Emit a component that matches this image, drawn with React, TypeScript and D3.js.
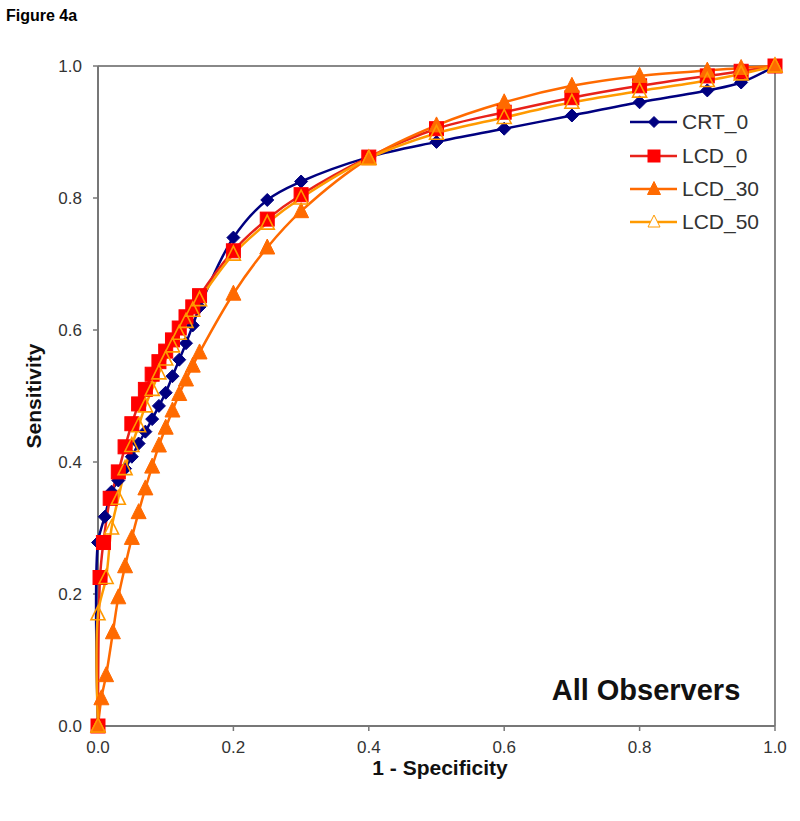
import React from "react";
import * as d3 from "d3";

const crtX = [0, 0, 0.01, 0.02, 0.03, 0.04, 0.05, 0.06, 0.07, 0.08, 0.09, 0.1, 0.11, 0.12, 0.13, 0.14, 0.15, 0.2, 0.25, 0.3, 0.4, 0.5, 0.6, 0.7, 0.8, 0.9, 0.95, 1.0];
const crtY = [0, 0.278, 0.317, 0.355, 0.372, 0.39, 0.408, 0.428, 0.446, 0.465, 0.485, 0.505, 0.53, 0.555, 0.58, 0.607, 0.635, 0.74, 0.797, 0.825, 0.862, 0.885, 0.905, 0.925, 0.945, 0.963, 0.975, 1.0];

const lcd0X = [0, 0.003, 0.008, 0.018, 0.03, 0.04, 0.05, 0.06, 0.07, 0.08, 0.09, 0.1, 0.11, 0.12, 0.13, 0.14, 0.15, 0.2, 0.25, 0.3, 0.4, 0.5, 0.6, 0.7, 0.8, 0.9, 0.95, 1.0];
const lcd0Y = [0, 0.225, 0.278, 0.345, 0.385, 0.423, 0.458, 0.488, 0.51, 0.533, 0.552, 0.568, 0.585, 0.603, 0.62, 0.635, 0.652, 0.72, 0.768, 0.805, 0.862, 0.905, 0.93, 0.952, 0.97, 0.985, 0.992, 1.0];

const lcd30X = [0, 0.005, 0.012, 0.022, 0.03, 0.04, 0.05, 0.06, 0.07, 0.08, 0.09, 0.1, 0.11, 0.12, 0.13, 0.14, 0.15, 0.2, 0.25, 0.3, 0.4, 0.5, 0.6, 0.7, 0.8, 0.9, 0.95, 1.0];
const lcd30Y = [0, 0.042, 0.077, 0.142, 0.195, 0.242, 0.285, 0.324, 0.36, 0.393, 0.425, 0.452, 0.478, 0.503, 0.525, 0.546, 0.566, 0.655, 0.725, 0.78, 0.86, 0.91, 0.945, 0.97, 0.985, 0.993, 0.997, 1.0];

const lcd50X = [0, 0, 0.012, 0.02, 0.03, 0.04, 0.05, 0.06, 0.07, 0.08, 0.09, 0.1, 0.11, 0.12, 0.13, 0.14, 0.15, 0.2, 0.25, 0.3, 0.4, 0.5, 0.6, 0.7, 0.8, 0.9, 0.95, 1.0];
const lcd50Y = [0, 0.17, 0.225, 0.3, 0.345, 0.39, 0.425, 0.455, 0.485, 0.51, 0.535, 0.556, 0.576, 0.595, 0.613, 0.63, 0.646, 0.715, 0.762, 0.8, 0.86, 0.898, 0.922, 0.945, 0.962, 0.978, 0.988, 1.0];

const seriesNames = ["CRT_0", "LCD_0", "LCD_30", "LCD_50"];
const xTicks = [0, 0.2, 0.4, 0.6, 0.8, 1.0];
const yTicks = [0, 0.2, 0.4, 0.6, 0.8, 1.0];

type Series = { name: string; xs: number[]; ys: number[]; line: string; marker: string; fill: string; stroke: string; size: number };

const series: Series[] = [
  { name: seriesNames[0], xs: crtX, ys: crtY, line: "#000080", marker: "diamond", fill: "#000080", stroke: "#000080", size: 11 },
  { name: seriesNames[1], xs: lcd0X, ys: lcd0Y, line: "#e8221a", marker: "square", fill: "#ff0000", stroke: "#ff0000", size: 14 },
  { name: seriesNames[2], xs: lcd30X, ys: lcd30Y, line: "#ff6a00", marker: "triangle", fill: "#ff6a00", stroke: "#ff6a00", size: 15 },
  { name: seriesNames[3], xs: lcd50X, ys: lcd50Y, line: "#ff9a00", marker: "triangle", fill: "none", stroke: "#ff9a00", size: 14 },
];

const W = 800, H = 821;
const L = 98, R = 775, T = 66, B = 726;

function Marker({ kind, cx, cy, size, fill, stroke }: { kind: string; cx: number; cy: number; size: number; fill: string; stroke: string }) {
  const h = size / 2;
  if (kind === "square") {
    return <rect x={cx - h} y={cy - h} width={size} height={size} fill={fill} stroke={stroke} strokeWidth={1} />;
  }
  if (kind === "diamond") {
    const pts = `${cx},${cy - h - 1} ${cx + h + 1},${cy} ${cx},${cy + h + 1} ${cx - h - 1},${cy}`;
    return <polygon points={pts} fill={fill} stroke={stroke} strokeWidth={1} />;
  }
  const pts = `${cx},${cy - h - 1} ${cx + h},${cy + h - 1} ${cx - h},${cy + h - 1}`;
  return <polygon points={pts} fill={fill} stroke={stroke} strokeWidth={fill === "none" ? 1.6 : 1} />;
}

export default function App() {
  const x = d3.scaleLinear().domain([0, 1]).range([L, R]);
  const y = d3.scaleLinear().domain([0, 1]).range([B, T]);
  const lineGen = d3
    .line<[number, number]>()
    .x((d) => x(d[0]))
    .y((d) => y(d[1]))
    .curve(d3.curveCatmullRom.alpha(0.5));

  const font = "Arial, 'Liberation Sans', Helvetica, sans-serif";
  const legendY = [122, 156, 189, 222];

  return (
    <svg width={W} height={H} style={{ position: "absolute", left: 0, top: 0, background: "#fff" }} fontFamily={font}>
      <rect x={0} y={0} width={W} height={H} fill="#fff" />
      <text x={6} y={21} fontSize={16} fontWeight="bold" fill="#000">Figure 4a</text>

      {/* plot frame */}
      <line x1={L} y1={T} x2={R} y2={T} stroke="#888" strokeWidth={2} />
      <line x1={R} y1={T} x2={R} y2={B} stroke="#888" strokeWidth={2} />
      <line x1={L} y1={T} x2={L} y2={B} stroke="#777" strokeWidth={2} />
      <line x1={L} y1={B} x2={R} y2={B} stroke="#777" strokeWidth={2} />

      {/* ticks */}
      {yTicks.map((t) => (
        <g key={"y" + t}>
          <line x1={L - 5} x2={L} y1={y(t)} y2={y(t)} stroke="#777" strokeWidth={1.5} />
          <text x={82} y={y(t) + 6} fontSize={17} fill="#333" textAnchor="end">{t.toFixed(1)}</text>
        </g>
      ))}
      {xTicks.map((t) => (
        <g key={"x" + t}>
          <line x1={x(t)} x2={x(t)} y1={B} y2={B + 5} stroke="#777" strokeWidth={1.5} />
          <text x={x(t)} y={753} fontSize={17} fill="#333" textAnchor="middle">{t.toFixed(1)}</text>
        </g>
      ))}

      <text x={440} y={775} fontSize={21} fontWeight="bold" fill="#111" textAnchor="middle">1 - Specificity</text>
      <text transform="translate(41,396) rotate(-90)" fontSize={21} fontWeight="bold" fill="#111" textAnchor="middle">Sensitivity</text>

      {/* series lines */}
      {series.map((s) => (
        <path
          key={"l" + s.name}
          d={lineGen(s.xs.map((v, i) => [v, s.ys[i]] as [number, number])) || ""}
          fill="none"
          stroke={s.line}
          strokeWidth={2.5}
        />
      ))}
      {series.map((s) => (
        <g key={"m" + s.name}>
          {s.xs.map((v, i) => (
            <Marker key={i} kind={s.marker} cx={x(v)} cy={y(s.ys[i])} size={s.size} fill={s.fill} stroke={s.stroke} />
          ))}
        </g>
      ))}

      {/* legend */}
      {series.map((s, i) => (
        <g key={"lg" + s.name}>
          <line x1={630} x2={677} y1={legendY[i]} y2={legendY[i]} stroke={s.line} strokeWidth={2.5} />
          <Marker kind={s.marker} cx={654} cy={legendY[i]} size={s.size - 2} fill={s.fill === "none" ? "#fff" : s.fill} stroke={s.stroke} />
          <text x={682} y={legendY[i] + 7} fontSize={21} fill="#333">{s.name}</text>
        </g>
      ))}

      <text x={646} y={700} fontSize={29} fontWeight="bold" fill="#111" textAnchor="middle">All Observers</text>
    </svg>
  );
}
